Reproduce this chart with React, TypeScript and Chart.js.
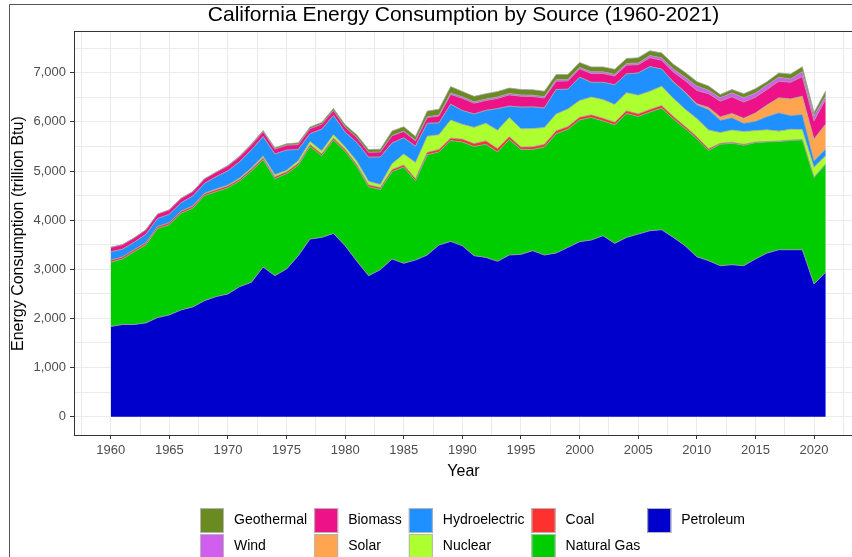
import React, { useEffect, useRef } from "react";
import { Chart, registerables } from "chart.js";

Chart.register(...registerables);

const FONT = '"Liberation Sans", Arial, Helvetica, sans-serif';

const years = [
  1960, 1961, 1962, 1963, 1964, 1965, 1966, 1967, 1968, 1969,
  1970, 1971, 1972, 1973, 1974, 1975, 1976, 1977, 1978, 1979,
  1980, 1981, 1982, 1983, 1984, 1985, 1986, 1987, 1988, 1989,
  1990, 1991, 1992, 1993, 1994, 1995, 1996, 1997, 1998, 1999,
  2000, 2001, 2002, 2003, 2004, 2005, 2006, 2007, 2008, 2009,
  2010, 2011, 2012, 2013, 2014, 2015, 2016, 2017, 2018, 2019,
  2020, 2021,
];

const petroleum = [
  1834, 1875, 1875, 1909, 2017, 2071, 2173, 2234, 2362, 2444,
  2498, 2647, 2735, 3046, 2870, 3006, 3276, 3615, 3649, 3730,
  3479, 3162, 2870, 2992, 3209, 3121, 3188, 3290, 3493, 3568,
  3479, 3276, 3242, 3162, 3290, 3304, 3378, 3290, 3331, 3446,
  3561, 3595, 3683, 3527, 3649, 3717, 3784, 3805, 3649, 3480,
  3256, 3175, 3073, 3093, 3073, 3209, 3331, 3398, 3398, 3398,
  2701, 2938,
];

const naturalGas = [
  1311, 1334, 1483, 1591, 1813, 1834, 1967, 2011, 2138, 2136,
  2162, 2153, 2265, 2184, 1975, 1939, 1844, 1885, 1661, 1900,
  1921, 1928, 1810, 1633, 1776, 1959, 1612, 2040, 1896, 2052,
  2111, 2224, 2302, 2227, 2350, 2136, 2062, 2200, 2429, 2403,
  2479, 2495, 2337, 2413, 2521, 2393, 2416, 2475, 2411, 2385,
  2404, 2245, 2471, 2472, 2451, 2369, 2261, 2202, 2222, 2235,
  2166, 2200,
];

const coal = [
  40, 40, 40, 40, 40, 40, 40, 40, 40, 40,
  40, 40, 40, 40, 40, 40, 40, 40, 40, 40,
  40, 40, 40, 40, 45, 45, 45, 50, 50, 50,
  60, 60, 70, 70, 60, 50, 55, 55, 60, 55,
  55, 55, 55, 55, 55, 55, 55, 55, 50, 45,
  40, 35, 20, 20, 20, 15, 10, 10, 10, 10,
  5, 5,
];

const nuclear = [
  0, 0, 0, 2, 3, 3, 3, 5, 10, 15,
  15, 20, 20, 30, 40, 30, 50, 60, 60, 70,
  50, 70, 70, 60, 120, 220, 330, 330, 300, 370,
  300, 330, 360, 370, 390, 370, 370, 340, 340, 360,
  340, 360, 380, 360, 370, 380, 370, 390, 370, 350,
  370, 380, 220, 250, 260, 230, 237, 203, 220, 203,
  203, 170,
];

const hydroelectric = [
  170, 160, 150, 170, 160, 170, 170, 200, 200, 250,
  290, 330, 370, 400, 420, 410, 230, 160, 440, 390,
  300, 380, 490, 560, 420, 330, 330, 260, 240, 320,
  280, 270, 260, 440, 230, 440, 440, 400, 500, 400,
  475, 300, 350, 400, 380, 450, 500, 350, 330, 340,
  280, 420, 250, 250, 170, 190, 270, 372, 280, 305,
  135, 135,
];

const solar = [
  0, 0, 0, 0, 0, 0, 0, 0, 0, 0,
  0, 0, 0, 0, 0, 0, 0, 0, 0, 0,
  0, 0, 0, 0, 0, 0, 0, 0, 0, 0,
  0, 0, 0, 0, 0, 0, 0, 0, 0, 0,
  0, 0, 0, 0, 0, 0, 0, 0, 5, 10,
  20, 40, 68, 88, 100, 170, 237, 305, 338, 372,
  440, 508,
];

const biomass = [
  90, 90, 90, 90, 90, 90, 90, 90, 90, 90,
  100, 100, 100, 100, 100, 100, 100, 100, 100, 100,
  100, 100, 100, 100, 150, 130, 110, 120, 140, 200,
  250, 220, 200, 210, 230, 220, 210, 200, 170, 170,
  170, 180, 180, 180, 180, 170, 180, 180, 200, 230,
  270, 280, 320, 338, 330, 318, 318, 338, 338, 400,
  372, 508,
];

const wind = [
  0, 0, 0, 0, 0, 0, 0, 0, 0, 0,
  0, 0, 0, 0, 0, 0, 0, 0, 0, 0,
  0, 0, 0, 0, 5, 8, 10, 15, 20, 30,
  30, 30, 30, 30, 30, 30, 30, 30, 35, 30,
  30, 35, 35, 35, 35, 35, 45, 50, 60, 70,
  90, 70, 68, 81, 88, 88, 88, 81, 68, 100,
  100, 68,
];

const geothermal = [
  0, 0, 0, 0, 0, 0, 0, 0, 0, 0,
  10, 15, 20, 25, 30, 30, 35, 35, 40, 45,
  50, 55, 58, 60, 90, 90, 80, 115, 120, 130,
  110, 110, 110, 110, 110, 110, 110, 110, 100, 100,
  100, 100, 100, 100, 100, 105, 100, 100, 100, 100,
  90, 85, 68, 68, 81, 88, 68, 88, 100, 100,
  68, 100,
];

// stacked bottom -> top
const seriesLabels = [
  "Petroleum", "Natural Gas", "Coal", "Nuclear", "Hydroelectric",
  "Solar", "Biomass", "Wind", "Geothermal",
];
const seriesValues = [
  petroleum, naturalGas, coal, nuclear, hydroelectric,
  solar, biomass, wind, geothermal,
];
const seriesColors = [
  "#0000CD", "#00CD00", "#FF3030", "#ADFF2F", "#1E90FF",
  "#FFA54F", "#EE1289", "#D15FEE", "#698B22",
];

const xMajorTicks = [1960, 1965, 1970, 1975, 1980, 1985, 1990, 1995, 2000, 2005, 2010, 2015, 2020];
const yMajorTicks = [0, 1000, 2000, 3000, 4000, 5000, 6000, 7000];

const TITLE = "California Energy Consumption by Source (1960-2021)";
const X_TITLE = "Year";
const Y_TITLE = "Energy Consumption (trillion Btu)";

const X_MIN = 1956.95;
const X_MAX = 2023.24;
const Y_MIN = -373;
const Y_MAX = 7826;
const LEGEND_CX = 473;

const ggDecor = {
  id: "ggDecor",
  beforeDraw(chart: any) {
    const ctx = chart.ctx;
    ctx.save();
    ctx.fillStyle = "#ffffff";
    ctx.fillRect(0, 0, chart.width, chart.height);
    ctx.restore();
  },
  afterDraw(chart: any) {
    const ctx = chart.ctx;
    const a = chart.chartArea;
    ctx.save();
    // panel border
    ctx.strokeStyle = "#333333";
    ctx.lineWidth = 1;
    ctx.strokeRect(Math.round(a.left) - 0.5, Math.round(a.top) - 0.5, Math.round(a.right - a.left) + 1, Math.round(a.bottom - a.top) + 1);
    // outer frame
    ctx.strokeStyle = "#555555";
    ctx.beginPath();
    ctx.moveTo(9.5, chart.height);
    ctx.lineTo(9.5, 4.5);
    ctx.lineTo(chart.width, 4.5);
    ctx.stroke();

    // legend (column-major, 2 rows)
    const items = chart.data.datasets.slice().reverse();
    ctx.font = `14px ${FONT}`;
    ctx.textBaseline = "middle";
    ctx.textAlign = "left";
    const nRows = 2;
    const nCols = Math.ceil(items.length / nRows);
    const keyW = 24, keyH = 25, textGap = 10, colGap = 7, rowPitch = 26;
    const colW: number[] = [];
    for (let c = 0; c < nCols; c++) {
      let w = 0;
      for (let r = 0; r < nRows; r++) {
        const it = items[c * nRows + r];
        if (it) w = Math.max(w, ctx.measureText(it.label).width);
      }
      colW.push(keyW + textGap + w);
    }
    const total = colW.reduce((s, w) => s + w, 0) + colGap * (nCols - 1);
    let x = Math.round(LEGEND_CX - total / 2);
    const y0 = Math.round(a.bottom) + 73;
    for (let c = 0; c < nCols; c++) {
      for (let r = 0; r < nRows; r++) {
        const it = items[c * nRows + r];
        if (!it) continue;
        const y = y0 + r * rowPitch;
        ctx.fillStyle = it.backgroundColor;
        ctx.fillRect(x, y, keyW, keyH);
        ctx.strokeStyle = "#B5B5B5";
        ctx.lineWidth = 1;
        ctx.strokeRect(x + 0.5, y + 0.5, keyW - 1, keyH - 1);
        ctx.fillStyle = "#000000";
        ctx.fillText(it.label, x + keyW + textGap, y + keyH / 2);
      }
      x += colW[c] + colGap;
    }
    ctx.restore();
  },
};

export default function App() {
  const canvasRef = useRef<HTMLCanvasElement | null>(null);

  useEffect(() => {
    document.body.style.margin = "0";
    const canvas = canvasRef.current;
    if (!canvas) return;

    const xTicks: number[] = [];
    xMajorTicks.forEach((v) => {
      xTicks.push(v - 2.5);
      xTicks.push(v);
    });
    xTicks.push(xMajorTicks[xMajorTicks.length - 1] + 2.5);
    const yTicks: number[] = [];
    yMajorTicks.forEach((v) => {
      yTicks.push(v);
      yTicks.push(v + 500);
    });

    const datasets = seriesLabels.map((label, i) => ({
      label,
      data: years.map((yr, j) => ({ x: yr, y: seriesValues[i][j] })),
      backgroundColor: seriesColors[i],
      borderColor: "#A3A3A3",
      borderWidth: 0.8,
      fill: i === 0 ? "origin" : "-1",
      pointRadius: 0,
      tension: 0,
    }));

    const isMajorX = (v: any) => xMajorTicks.includes(v);
    const isMajorY = (v: any) => yMajorTicks.includes(v);

    const chart = new Chart(canvas, {
      type: "line",
      data: { datasets } as any,
      options: {
        responsive: false,
        animation: false,
        devicePixelRatio: 1,
        layout: { padding: { left: 0, right: 0, top: 0, bottom: 62 } },
        plugins: {
          legend: { display: false },
          tooltip: { enabled: false },
          title: {
            display: true,
            text: TITLE,
            fullSize: false,
            color: "#000000",
            font: { size: 21, family: FONT, weight: "normal" },
            padding: { top: 3, bottom: 4 },
          },
        },
        scales: {
          x: {
            type: "linear",
            min: X_MIN,
            max: X_MAX,
            afterBuildTicks: (s: any) => {
              s.ticks = xTicks.map((v) => ({ value: v }));
            },
            afterFit: (s: any) => {
              s.height = 60;
            },
            ticks: {
              autoSkip: false,
              maxRotation: 0,
              padding: 4,
              color: "#4D4D4D",
              font: { size: 13, family: FONT },
              callback: (v: any) => (isMajorX(v) ? String(v) : ""),
            },
            grid: {
              color: "#EBEBEB",
              lineWidth: 1,
              drawTicks: true,
              tickLength: 4,
              tickColor: (c: any) => (c.tick && isMajorX(c.tick.value) ? "#333333" : "rgba(0,0,0,0)"),
            },
            border: { display: false },
            title: {
              display: true,
              text: X_TITLE,
              color: "#000000",
              font: { size: 16, family: FONT },
              padding: { top: 0, bottom: 14 },
            },
          },
          y: {
            type: "linear",
            stacked: true,
            min: Y_MIN,
            max: Y_MAX,
            afterBuildTicks: (s: any) => {
              s.ticks = yTicks.map((v) => ({ value: v }));
            },
            afterFit: (s: any) => {
              s.width = 75;
            },
            ticks: {
              autoSkip: false,
              padding: 4,
              color: "#4D4D4D",
              font: { size: 13, family: FONT },
              callback: (v: any) => (isMajorY(v) ? Number(v).toLocaleString("en-US") : ""),
            },
            grid: {
              color: "#EBEBEB",
              lineWidth: 1,
              drawTicks: true,
              tickLength: 5,
              tickColor: (c: any) => (c.tick && isMajorY(c.tick.value) ? "#333333" : "rgba(0,0,0,0)"),
            },
            border: { display: false },
            title: {
              display: true,
              text: Y_TITLE,
              color: "#000000",
              font: { size: 16, family: FONT },
              padding: { top: 9, bottom: 0 },
            },
          },
        },
      } as any,
      plugins: [ggDecor],
    });

    return () => {
      chart.destroy();
    };
  }, []);

  return (
    <div style={{ width: 852, height: 557, position: "relative" }}>
      <canvas ref={canvasRef} width={852} height={557} style={{ display: "block" }} />
    </div>
  );
}
